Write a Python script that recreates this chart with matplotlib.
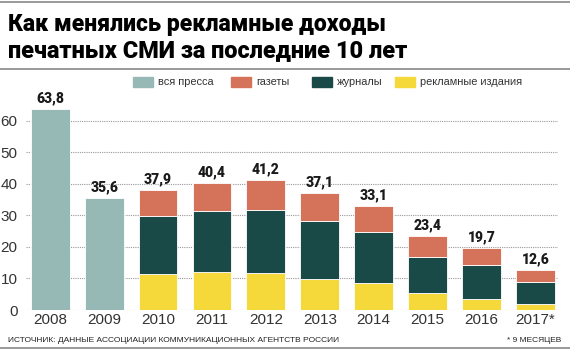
import numpy as np
import matplotlib
matplotlib.use("Agg")
import matplotlib.pyplot as plt
from matplotlib.patches import Rectangle
from matplotlib.lines import Line2D

# data
years = ["2008", "2009", "2010", "2011", "2012", "2013", "2014", "2015", "2016", "2017*"]
totals = [63.8, 35.6, 37.9, 40.4, 41.2, 37.1, 33.1, 23.4, 19.7, 12.6]
total_labels = ["63,8", "35,6", "37,9", "40,4", "41,2", "37,1", "33,1", "23,4", "19,7", "12,6"]
all_press = [63.8, 35.6, 0, 0, 0, 0, 0, 0, 0, 0]
ads = [0, 0, 11.4, 11.9, 11.6, 9.9, 8.6, 5.3, 3.6, 1.8]
magazines = [0, 0, 18.3, 19.6, 20.1, 18.4, 16.2, 11.5, 10.6, 7.2]
newspapers = [t - a - m if i > 1 else 0 for i, (t, a, m) in enumerate(zip(totals, ads, magazines))]

legend_names = ["вся пресса", "газеты", "журналы", "рекламные издания"]
colors = ["#97b9b6", "#d5735a", "#1a4a47", "#f5d93a"]

W, H = 570, 351
fig = plt.figure(figsize=(W / 100, H / 100), dpi=100)
fig.patch.set_facecolor("white")

narrow = ["Liberation Sans Narrow", "Liberation Sans", "DejaVu Sans"]
heavy = ["Roboto", "DejaVu Sans"]

def fx(px):
    return px / W

def fy(py):
    return 1 - py / H

# axes placed in pixel coords: x 26..558, y 0 at 310, 66.6 at 100
ax = fig.add_axes([fx(26), fy(310), fx(558 - 26), (310 - 100) / H])
x = np.arange(len(years))
bw = 0.72

ax.bar(x, all_press, bw, color=colors[0], edgecolor="white", linewidth=0.6, zorder=3)
ax.bar(x, ads, bw, color=colors[3], edgecolor="white", linewidth=0.6, zorder=3)
ax.bar(x, magazines, bw, bottom=ads, color=colors[2], edgecolor="white", linewidth=0.6, zorder=3)
ax.bar(x, newspapers, bw, bottom=np.array(ads) + np.array(magazines),
       color=colors[1], edgecolor="white", linewidth=0.6, zorder=3)

for xi, t, lab in zip(x, totals, total_labels):
    ax.text(xi, t + 1.2, lab, ha="center", va="bottom", fontsize=10, fontweight="black",
            family=heavy, color="#1a1a1a", zorder=4)

ax.set_xlim(-0.45, 9.42)
ax.set_ylim(0, 66.6)
ax.set_yticks([0, 10, 20, 30, 40, 50, 60])
ax.set_xticks(x)
ax.set_xticklabels(years)
ax.yaxis.grid(True, linestyle=(0, (1, 1)), color="#999999", linewidth=0.8, zorder=0)
for s in ax.spines.values():
    s.set_visible(False)
ax.tick_params(length=0, labelsize=11, colors="#333333", pad=2)
for lab in ax.get_xticklabels() + ax.get_yticklabels():
    lab.set_family(narrow)
ax.tick_params(axis="y", pad=6)

# title
fig.text(fx(8), fy(24), "Как менялись рекламные доходы", fontsize=16.6, fontweight="black",
         family=heavy, va="center", ha="left", color="black")
fig.text(fx(8), fy(51), "печатных СМИ за последние 10 лет", fontsize=16.9, fontweight="black",
         family=heavy, va="center", ha="left", color="black")
fig.add_artist(Line2D([fx(0), fx(570)], [fy(2), fy(2)], color="#888888", linewidth=1.2))
fig.add_artist(Line2D([fx(0), fx(570)], [fy(69), fy(69)], color="#888888", linewidth=1.2))

# legend
legend_x = [133, 231, 312, 395]
for lx, name, c in zip(legend_x, legend_names, colors):
    fig.add_artist(Rectangle((fx(lx), fy(87)), fx(20), 10 / H, color=c, transform=fig.transFigure))
    fig.text(fx(lx + 25), fy(82), name, fontsize=7.9, family=narrow, va="center", ha="left",
             color="#333333")

# footer
fig.text(fx(8), fy(340), "ИСТОЧНИК: ДАННЫЕ АССОЦИАЦИИ КОММУНИКАЦИОННЫХ АГЕНТСТВ РОССИИ",
         fontsize=6.0, family=narrow, va="center", ha="left", color="#222222")
fig.text(fx(561), fy(340), "* 9 МЕСЯЦЕВ", fontsize=6.0, family=narrow, va="center",
         ha="right", color="#222222")
fig.add_artist(Line2D([fx(0), fx(570)], [fy(348), fy(348)], color="#888888", linewidth=1.2))

fig.savefig("out.png", dpi=100)
